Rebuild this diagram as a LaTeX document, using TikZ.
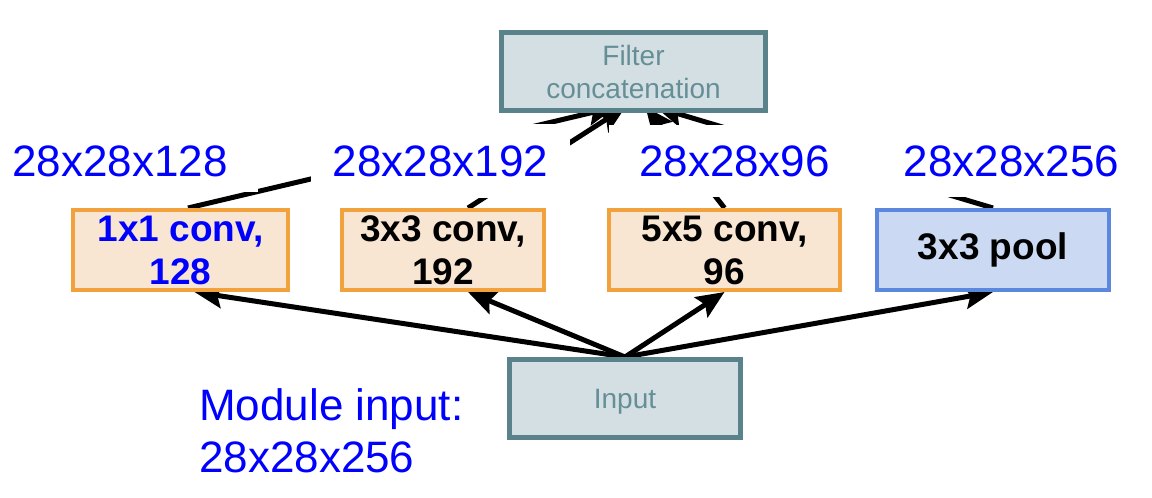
\documentclass[tikz,border=0pt]{standalone}
\usepackage{fontspec}
\setmainfont{Liberation Sans}
\usetikzlibrary{arrows.meta,backgrounds}
\definecolor{convline}{HTML}{F2A23C}
\definecolor{convfill}{HTML}{F8E6D3}
\definecolor{poolline}{HTML}{5B88DE}
\definecolor{poolfill}{HTML}{CBD9F2}
\definecolor{ioline}{HTML}{5A828A}
\definecolor{iofill}{HTML}{D3DFE3}
\definecolor{iotext}{HTML}{668E96}

\begin{document}
\begin{tikzpicture}[x=1pt, y=-1pt,
  conv/.style={draw=convline, fill=convfill, line width=4pt, minimum height=80pt, inner sep=0pt, align=center, font=\fontsize{37}{43}\selectfont\bfseries},
  pool/.style={conv, draw=poolline, fill=poolfill},
  io/.style={draw=ioline, fill=iofill, line width=5pt, minimum height=78pt, inner sep=0pt, align=center, text=iotext, font=\fontsize{28}{33}\selectfont},
  dims/.style={fill=white, text=blue, inner xsep=22pt, inner ysep=20pt, font=\fontsize{44}{52}\selectfont},
  arr/.style={-{Stealth[length=28pt, width=24pt, inset=5pt]}, line width=5pt}
]
\useasboundingbox (0,0) rectangle (1152,498);
\node[io, minimum width=264pt] (concat) at (633.5,71.5) {Filter\\concatenation};
\node[conv, minimum width=215pt, text=blue] (c1) at (180.5,250) {1x1 conv,\\128};
\node[conv, minimum width=202pt] (c3) at (443,250) {3x3 conv,\\192};
\node[conv, minimum width=231pt] (c5) at (724.5,250) {5x5 conv,\\96};
\node[pool, minimum width=232pt] (pool) at (993,250) {3x3 pool};
\node[io, minimum width=231pt, text depth=0pt] (input) at (625,398.5) {Input};

\begin{scope}[on background layer]
\draw[arr] (input.north) -- ([xshift=14pt]c1.south);
\draw[arr] (input.north) -- ([xshift=25pt]c3.south);
\draw[arr] (input.north) -- (c5.south);
\draw[arr] (input.north) -- (pool.south);
\draw[arr] ([xshift=7.5pt]c1.north) -- ([xshift=-18pt,yshift=6pt]concat.south);
\draw[arr] ([xshift=25pt]c3.north) -- ([xshift=-8pt,yshift=6pt]concat.south);
\draw[arr] (c5.north) -- ([xshift=12pt,yshift=6pt]concat.south);
\draw[arr] (pool.north) -- ([xshift=22pt,yshift=6pt]concat.south);
\end{scope}

\node[dims, inner xsep=30pt, inner ysep=15pt] (d1) at (120,161) {28x28x128};
\node[dims, inner ysep=21pt] (d3) at (440.5,161) {28x28x192};
\node[dims, inner xsep=30pt] (d5) at (734.5,161) {28x28x96};
\node[dims, inner xsep=45pt] (dp) at (1011.5,161) {28x28x256};
\node[anchor=north west, inner sep=0pt, align=left, text=blue, font=\fontsize{44}{52}\selectfont] (modin) at (199,388) {Module input:\\28x28x256};
\end{tikzpicture}
\end{document}
